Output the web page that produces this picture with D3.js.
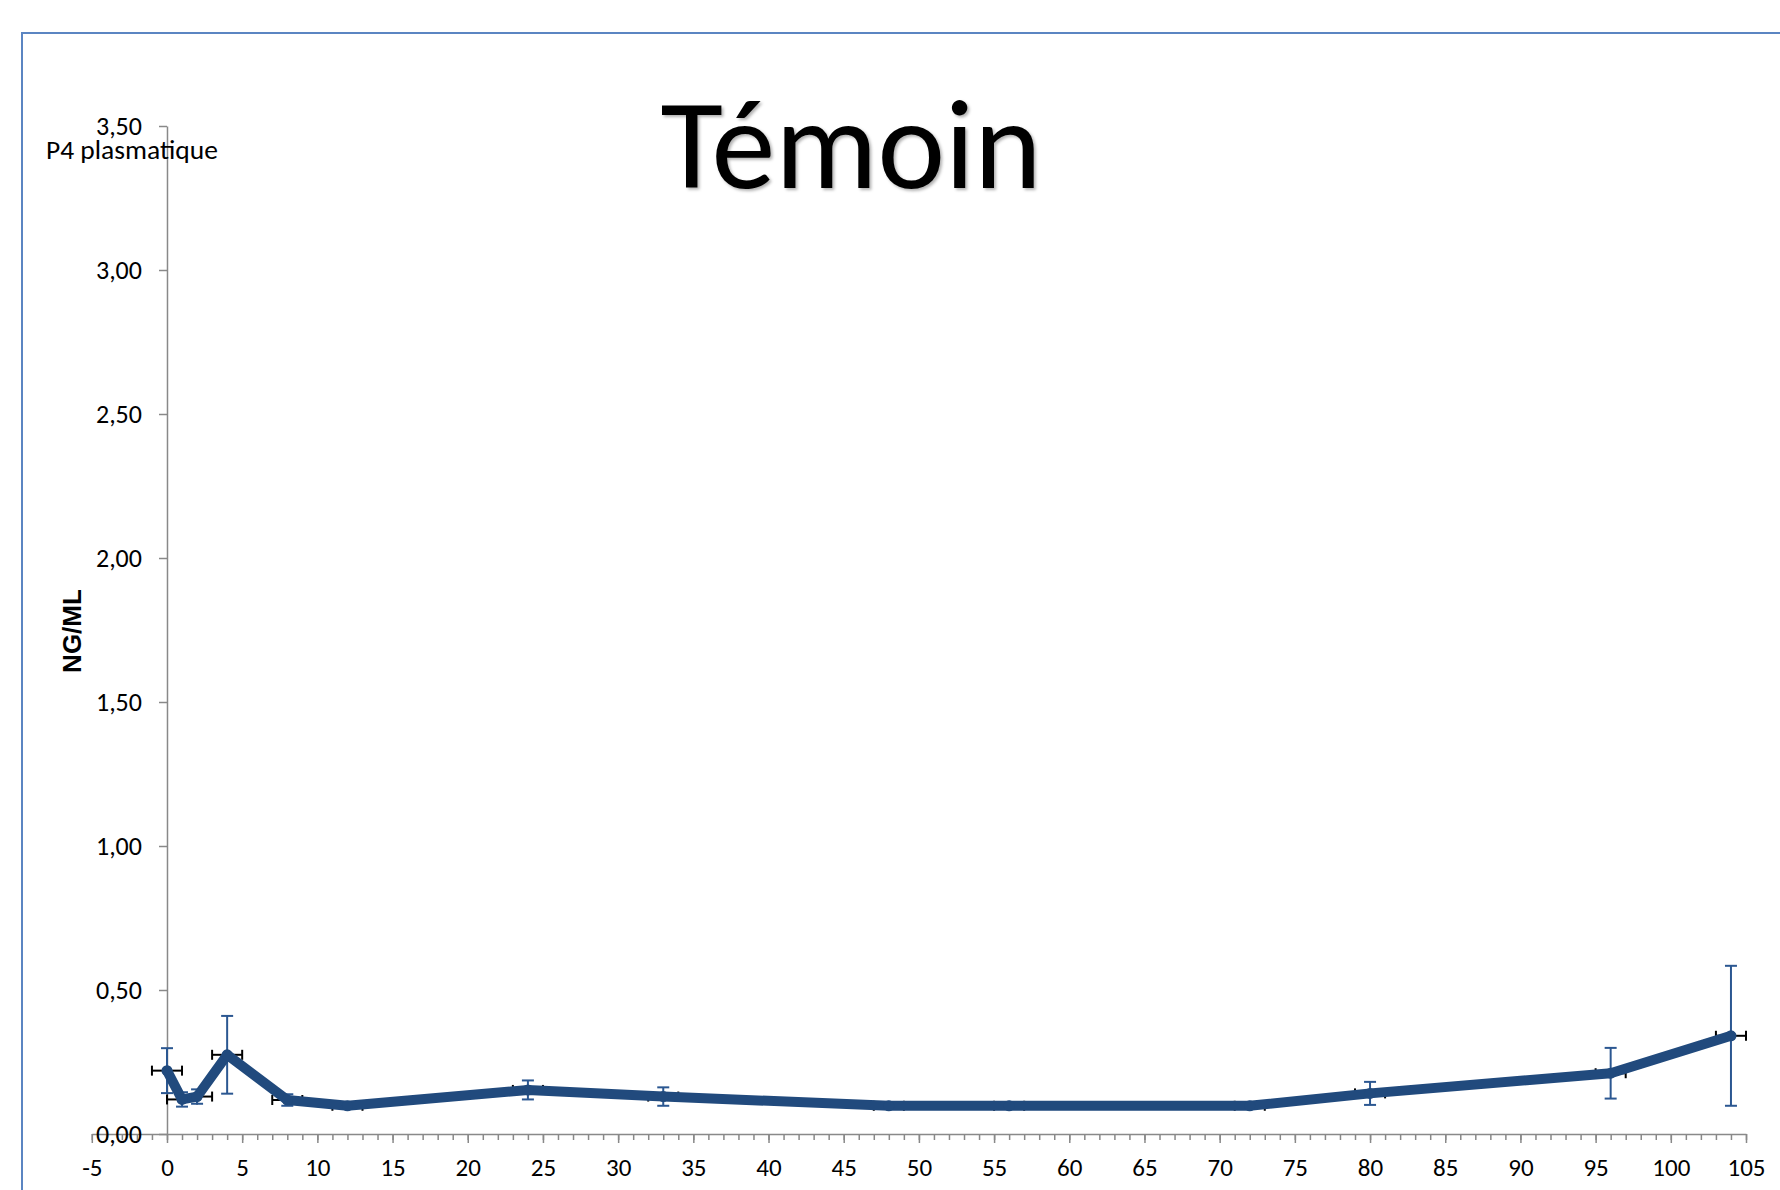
<!DOCTYPE html>
<html lang="fr">
  <head>
    <meta charset="UTF-8" />
    <title>Témoin - P4 plasmatique</title>
    <style>
      body { margin: 0; background: #fff; }
      svg text { font-family: Carlito, Calibri, "Open Sans", sans-serif; }
    </style>
  </head>
  <body>
    <svg id="svg" width="1780" height="1190"></svg>

    <script src="https://d3js.org/d3.v7.min.js"></script>
    <script>
      // heures de prélèvement, P4 moyenne (ng/ml) et écarts
      const hours = [0, 1, 2, 4, 8, 12, 24, 33, 48, 56, 72, 80, 96, 104];
      const p4 = [0.22, 0.12, 0.13, 0.275, 0.118, 0.098, 0.153, 0.13, 0.098, 0.098, 0.098, 0.141, 0.211, 0.341];
      const p4Err = [0.078, 0.025, 0.025, 0.135, 0.02, 0.008, 0.033, 0.032, 0.006, 0.006, 0.006, 0.04, 0.088, 0.243];
      const hourErr = [1, 1, 1, 1, 1, 1, 1, 1, 1, 1, 1, 1, 1, 1];
      const yTicks = [0, 0.5, 1, 1.5, 2, 2.5, 3, 3.5];
      const xTicks = d3.range(-5, 106, 5);

      const data = hours.map((h, i) => ({ x: h, y: p4[i], ey: p4Err[i], ex: hourErr[i] }));

      const svg = d3.select("#svg");

      const xScale = d3.scaleLinear().domain([-5, 105]).range([91.8, 1746]);
      const yScale = d3.scaleLinear().domain([0, 3.5]).range([1134, 126]);

      const comma = (d) => d3.format(".2f")(d).replace(".", ",");

      // cadre du graphique
      svg.append("rect")
        .attr("x", 22)
        .attr("y", 33)
        .attr("width", 1800)
        .attr("height", 1200)
        .attr("fill", "none")
        .attr("stroke", "#5B85C2")
        .attr("stroke-width", 2);

      // ombre du titre
      const defs = svg.append("defs");
      defs.append("filter")
        .attr("id", "shadow")
        .attr("x", "-10%").attr("y", "-10%")
        .attr("width", "120%").attr("height", "130%")
        .append("feDropShadow")
        .attr("dx", 2).attr("dy", 2)
        .attr("stdDeviation", 1.8)
        .attr("flood-color", "#000")
        .attr("flood-opacity", 0.3);

      svg.append("text")
        .attr("x", 851)
        .attr("y", 188)
        .attr("text-anchor", "middle")
        .attr("font-size", 128)
        .attr("fill", "#000")
        .attr("filter", "url(#shadow)")
        .text("Témoin");

      // axe X : graduations secondaires puis principales
      svg.append("g")
        .attr("transform", `translate(0,${yScale(0)})`)
        .call(d3.axisBottom(xScale).tickValues(d3.range(-5, 106, 1)).tickSize(6).tickSizeOuter(0).tickFormat(""))
        .call((g) => g.select(".domain").remove());

      svg.append("g")
        .attr("transform", `translate(0,${yScale(0)})`)
        .call(d3.axisBottom(xScale).tickValues(xTicks).tickSize(9).tickSizeOuter(0).tickPadding(15).tickFormat((d) => String(d)))
        .call((g) => g.selectAll(".tick text").attr("font-size", 25));

      // axe Y
      svg.append("g")
        .attr("transform", `translate(${xScale(0)},0)`)
        .call(d3.axisLeft(yScale).tickValues(yTicks).tickSize(8).tickSizeOuter(0).tickPadding(17).tickFormat(comma))
        .call((g) => g.selectAll(".tick text").attr("font-size", 26));

      svg.selectAll(".domain, .tick line")
        .attr("stroke", "#898989")
        .attr("stroke-width", 1.5);
      svg.selectAll(".tick text")
        .attr("fill", "#000")
        .style("font-family", 'Carlito, Calibri, "Open Sans", sans-serif');

      svg.append("text")
        .attr("x", 46)
        .attr("y", 159)
        .attr("font-size", 27.5)
        .text("P4 plasmatique");

      svg.append("text")
        .attr("transform", "translate(81,631) rotate(-90)")
        .attr("text-anchor", "middle")
        .attr("font-size", 26)
        .attr("font-weight", "bold")
        .style("font-family", '"Liberation Sans", Arial, sans-serif')
        .text("NG/ML");

      // barres d'erreur horizontales (noires)
      const xe = svg.append("g").attr("stroke", "#000").attr("stroke-width", 2);
      xe.selectAll(".xbar")
        .data(data)
        .enter()
        .append("line")
        .attr("x1", (d) => xScale(d.x - d.ex))
        .attr("x2", (d) => xScale(d.x + d.ex))
        .attr("y1", (d) => yScale(d.y))
        .attr("y2", (d) => yScale(d.y));
      xe.selectAll(".xcap")
        .data(data.flatMap((d) => [{ x: d.x - d.ex, y: d.y }, { x: d.x + d.ex, y: d.y }]))
        .enter()
        .append("line")
        .attr("x1", (d) => xScale(d.x))
        .attr("x2", (d) => xScale(d.x))
        .attr("y1", (d) => yScale(d.y) - 5)
        .attr("y2", (d) => yScale(d.y) + 5);

      // barres d'erreur verticales (bleues)
      const ye = svg.append("g").attr("stroke", "#2B5791").attr("stroke-width", 2);
      ye.selectAll(".ybar")
        .data(data)
        .enter()
        .append("line")
        .attr("x1", (d) => xScale(d.x))
        .attr("x2", (d) => xScale(d.x))
        .attr("y1", (d) => yScale(d.y - d.ey))
        .attr("y2", (d) => yScale(d.y + d.ey));
      ye.selectAll(".ycap")
        .data(data.flatMap((d) => [{ x: d.x, y: d.y - d.ey }, { x: d.x, y: d.y + d.ey }]))
        .enter()
        .append("line")
        .attr("x1", (d) => xScale(d.x) - 6)
        .attr("x2", (d) => xScale(d.x) + 6)
        .attr("y1", (d) => yScale(d.y))
        .attr("y2", (d) => yScale(d.y));

      // courbe
      const line = d3.line()
        .x((d) => xScale(d.x))
        .y((d) => yScale(d.y));

      svg.append("path")
        .datum(data)
        .attr("d", line)
        .attr("fill", "none")
        .attr("stroke", "#214A7D")
        .attr("stroke-width", 10)
        .attr("stroke-linejoin", "round")
        .attr("stroke-linecap", "round");

      svg.selectAll(".pt")
        .data(data)
        .enter()
        .append("circle")
        .attr("cx", (d) => xScale(d.x))
        .attr("cy", (d) => yScale(d.y))
        .attr("r", 5.5)
        .attr("fill", "#214A7D");
    </script>
  </body>
</html>
